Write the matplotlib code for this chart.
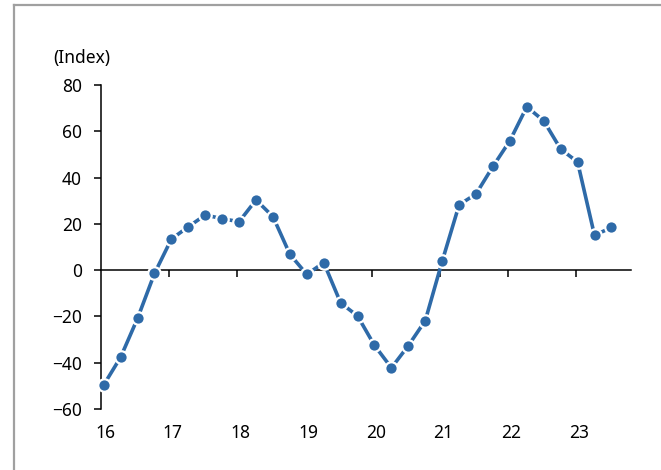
import numpy as np
import matplotlib
matplotlib.use("Agg")
import matplotlib.pyplot as plt
from matplotlib import transforms
from matplotlib.lines import Line2D

plt.rcParams["font.family"] = ["Noto Sans", "DejaVu Sans"]

# quarterly index, 2016 Q1 .. 2023 Q3
YEARS = [16, 17, 18, 19, 20, 21, 22, 23]
VALUES = [
    -49.7, -37.7, -20.9, -1.5,
    13.4, 18.7, 23.8, 22.2,
    20.9, 30.3, 23.1, 6.8,
    -1.9, 3.2, -14.2, -19.9,
    -32.6, -42.3, -32.7, -21.9,
    3.8, 28.2, 32.9, 44.8,
    55.9, 70.6, 64.5, 52.3,
    46.7, 15.0, 18.4,
]
Y_TICKS = [-60, -40, -20, 0, 20, 40, 60, 80]
COLOR = "#2e6aa8"


def main():
    x = YEARS[0] + np.arange(len(VALUES)) / 4.0

    fig = plt.figure(figsize=(6.61, 4.70), dpi=100)
    ax = fig.add_axes([0.1523, 0.1303, 0.8018, 0.6888])

    ax.plot(x, VALUES, color=COLOR, lw=2.6, marker="o", ms=9,
            mfc=COLOR, mec="white", mew=1.6, zorder=5, clip_on=False)

    ax.set_xlim(15.955, 23.784)
    ax.set_ylim(-60, 80)

    # x axis sits on the zero line, labels at the bottom
    ax.spines["bottom"].set_position(("data", 0))
    ax.spines["top"].set_visible(False)
    ax.spines["right"].set_visible(False)
    for s in ("left", "bottom"):
        ax.spines[s].set_linewidth(1.1)
        ax.spines[s].set_color("black")

    ax.set_xticks([y - 0.03 for y in YEARS[1:]])
    ax.set_xticklabels([])
    ax.tick_params(axis="x", direction="out", length=5, width=1.1)
    ax.set_yticks(Y_TICKS)
    ax.set_yticklabels([f"{t}".replace("-", "\u2212") for t in Y_TICKS])
    ax.tick_params(axis="y", direction="out", length=5, width=1.1,
                   pad=8.5, labelsize=12.5)

    trans = transforms.blended_transform_factory(ax.transData, fig.transFigure)
    for yr in YEARS:
        ax.text(yr + 0.02, 0.079, str(yr), transform=trans, ha="center",
                va="center", fontsize=12.5)

    fig.text(0.080, 0.877, "(Index)", ha="left", va="center", fontsize=12.5)

    # screenshot frame (top and left edges)
    fig.add_artist(Line2D([14 / 661, 1], [1 - 5 / 470, 1 - 5 / 470],
                          transform=fig.transFigure, color="#a0a0a0", lw=1.6))
    fig.add_artist(Line2D([14 / 661, 14 / 661], [0, 1 - 5 / 470],
                          transform=fig.transFigure, color="#a0a0a0", lw=1.6))

    fig.savefig("out.png", dpi=100)


if __name__ == "__main__":
    main()
